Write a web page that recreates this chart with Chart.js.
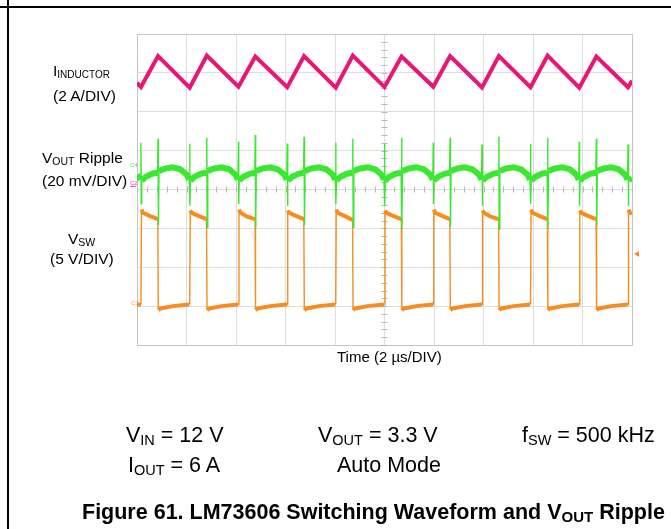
<!DOCTYPE html>
<html>
<head>
<meta charset="utf-8">
<script src="https://cdn.jsdelivr.net/npm/chart.js@4.4.1/dist/chart.umd.min.js"></script>
<style>
  html, body { margin:0; padding:0; background:#fff; }
  body { width:671px; height:529px; position:relative; overflow:hidden; font-family: Arial, "Liberation Sans", sans-serif; color:#000; }
  #c { position:absolute; left:0; top:0; }
  .t { position:absolute; white-space:nowrap; line-height:1; }
  .s { position:relative; }
  .hl { position:absolute; left:0; top:6px; width:671px; height:2px; background:#000; }
  .vl { position:absolute; left:7px; top:0; width:2px; height:529px; background:#000; }
</style>
</head>
<body>
<div class="hl"></div>
<div class="vl"></div>
<canvas id="c" width="671" height="529"></canvas>

<div class="t" style="left:53px;top:62.9px;font-size:15.5px">I<span class="s" style="font-size:10px;top:2px">INDUCTOR</span></div>
<div class="t" style="left:53px;top:87.6px;font-size:15.5px">(2 A/DIV)</div>
<div class="t" style="left:42px;top:150.2px;font-size:15.5px">V<span class="s" style="font-size:10.5px;top:2px">OUT</span> Ripple</div>
<div class="t" style="left:42px;top:172.9px;font-size:15.5px">(20 mV/DIV)</div>
<div class="t" style="left:68px;top:230.9px;font-size:15.5px">V<span class="s" style="font-size:10.5px;top:2px">SW</span></div>
<div class="t" style="left:50px;top:250.9px;font-size:15.5px">(5 V/DIV)</div>
<div class="t" style="left:337px;top:349.3px;font-size:15px">Time (2 µs/DIV)</div>

<div class="t" style="left:126px;top:424.8px;font-size:21.5px">V<span class="s" style="font-size:14.5px;top:3px">IN</span> = 12 V</div>
<div class="t" style="left:128px;top:454.8px;font-size:21.5px">I<span class="s" style="font-size:14.5px;top:3px">OUT</span> = 6 A</div>
<div class="t" style="left:318px;top:424.8px;font-size:21.5px">V<span class="s" style="font-size:14.5px;top:3px">OUT</span> = 3.3 V</div>
<div class="t" style="left:337px;top:454.8px;font-size:21.5px">Auto Mode</div>
<div class="t" style="left:522px;top:424.8px;font-size:21.5px">f<span class="s" style="font-size:14.5px;top:3px">SW</span> = 500 kHz</div>
<div class="t" style="left:82px;top:501.8px;font-size:21.5px;font-weight:bold">Figure 61. LM73606 Switching Waveform and V<span class="s" style="font-size:15px;top:3px">OUT</span> Ripple</div>

<script>
// ---------------- DATA ----------------
// Time axis: 10 divisions of 2 µs
const timeMin = 0, timeMax = 20, timeStep = 2;
const vertDivisions = 8;

// Inductor current (A)
const inductorTime = [0, 0.16, 0.85, 2.13, 2.82, 4.10, 4.78, 6.07, 6.75, 8.03, 8.72,
  10.00, 10.69, 11.97, 12.65, 13.94, 14.62, 15.90, 16.59, 17.87, 18.56, 19.84, 20.0];
const inductorAmps = [5.15, 4.93, 6.53, 4.90, 6.55, 4.95, 6.50, 4.92, 6.52, 4.90, 6.55,
  4.93, 6.50, 4.95, 6.53, 4.91, 6.52, 4.92, 6.55, 4.90, 6.50, 4.92, 5.25];

// Output voltage ripple (mV, AC coupled)
const rippleTime = [0,
  0.14,0.16,0.17,0.19,0.36,0.61,0.83,0.85,0.865,0.89,1.15,1.45,1.75,2.01,
  2.11,2.13,2.14,2.16,2.33,2.58,2.80,2.82,2.835,2.86,3.12,3.42,3.72,3.98,
  4.08,4.10,4.11,4.13,4.30,4.55,4.76,4.78,4.795,4.82,5.08,5.38,5.68,5.95,
  6.05,6.07,6.08,6.10,6.27,6.52,6.73,6.75,6.765,6.79,7.05,7.35,7.65,7.91,
  8.01,8.03,8.04,8.06,8.23,8.48,8.70,8.72,8.735,8.76,9.02,9.32,9.62,9.88,
  9.98,10.00,10.01,10.03,10.20,10.45,10.67,10.69,10.705,10.73,10.99,11.29,11.59,11.85,
  11.95,11.97,11.98,12.00,12.17,12.42,12.63,12.65,12.665,12.69,12.95,13.25,13.55,13.82,
  13.92,13.94,13.95,13.97,14.14,14.39,14.60,14.62,14.635,14.66,14.92,15.22,15.52,15.78,
  15.88,15.90,15.91,15.93,16.10,16.35,16.57,16.59,16.605,16.63,16.89,17.19,17.49,17.75,
  17.85,17.87,17.88,17.90,18.07,18.32,18.54,18.56,18.575,18.60,18.86,19.16,19.46,19.72,
  19.82,19.84,19.85,19.87,20.0];
const rippleMv = [-5.0,
  -7.5,11.5,-20,-8,-6,-4.5,-4,13.5,-31,-3,-1.8,-1.2,-2.2,-5,
  -7.5,11,-21,-8,-6,-4.5,-4,14,-32,-3,-1.8,-1.2,-2.2,-5,
  -7.5,12,-20,-8,-6,-4.5,-4,15.5,-32,-3,-1.8,-1.2,-2.2,-5,
  -7.5,11,-21,-8,-6,-4.5,-4,14.5,-31,-3,-1.8,-1.2,-2.2,-5,
  -7.5,11.5,-20,-8,-6,-4.5,-4,13.5,-32,-3,-1.8,-1.2,-2.2,-5,
  -7.5,11,-21,-8,-6,-4.5,-4,14,-33,-3,-1.8,-1.2,-2.2,-5,
  -7.5,11.5,-20,-8,-6,-4.5,-4,14,-32,-3,-1.8,-1.2,-2.2,-5,
  -7.5,10.5,-21,-8,-6,-4.5,-4,14.5,-33,-3,-1.8,-1.2,-2.2,-5,
  -7.5,11,-20,-8,-6,-4.5,-4,14,-32,-3,-1.8,-1.2,-2.2,-5,
  -7.5,12,-21,-8,-6,-4.5,-4,13.5,-31,-3,-1.8,-1.2,-2.2,-5,
  -7.5,10.5,-21,-8,-6.5];

// Switch node voltage (V)
const swTime = [0,
  0.16,0.18,0.24,0.51,0.84,0.86,0.95,1.45,2.11,
  2.13,2.15,2.21,2.48,2.81,2.83,2.92,3.42,4.08,
  4.10,4.12,4.18,4.45,4.77,4.79,4.88,5.38,6.05,
  6.07,6.09,6.15,6.42,6.74,6.76,6.85,7.35,8.01,
  8.03,8.05,8.11,8.38,8.71,8.73,8.82,9.32,9.98,
  10.00,10.02,10.08,10.35,10.68,10.70,10.79,11.29,11.95,
  11.97,11.99,12.05,12.32,12.64,12.66,12.75,13.25,13.92,
  13.94,13.96,14.02,14.29,14.61,14.63,14.72,15.22,15.88,
  15.90,15.92,15.98,16.25,16.58,16.60,16.69,17.19,17.85,
  17.87,17.89,17.95,18.22,18.55,18.57,18.66,19.16,19.82,
  19.84,19.86,19.92,20.0];
const swVolts = [0.2,
  0.2,12.4,12.0,11.6,11.2,-0.5,-0.3,0.0,0.2,
  0.2,12.3,12.0,11.6,11.2,-0.5,-0.3,0.0,0.2,
  0.2,12.4,12.0,11.5,11.2,-0.5,-0.3,0.0,0.2,
  0.2,12.3,12.0,11.6,11.2,-0.5,-0.3,0.0,0.2,
  0.2,12.4,12.0,11.6,11.1,-0.5,-0.3,0.0,0.2,
  0.2,12.3,12.0,11.6,11.2,-0.5,-0.3,0.0,0.2,
  0.2,12.4,12.0,11.6,11.2,-0.5,-0.3,0.0,0.2,
  0.2,12.3,12.0,11.5,11.2,-0.5,-0.3,0.0,0.2,
  0.2,12.4,12.0,11.6,11.2,-0.5,-0.3,0.0,0.2,
  0.2,12.3,12.0,11.6,11.2,-0.5,-0.3,0.0,0.2,
  0.2,12.4,12.0,11.9];

// Channel scale settings (ground reference in divisions, units per division)
const inductorGroundDiv = 4.17, inductorPerDiv = 2;   // A/DIV
const rippleGroundDiv = 4.63, ripplePerDiv = 20;      // mV/DIV
const swGroundDiv = 1.0, swPerDiv = 5;                // V/DIV
const triggerLevelV = 6.7;

// ---------------- CHART ----------------
const pts = (xs, ys) => xs.map((x, i) => ({x: x, y: ys[i]}));
const PINK = 'rgb(232,22,118)', GREEN = 'rgb(58,232,48)', ORANGE = 'rgb(248,140,32)';

function edgeWidth(thick, thin) {
  return (ctx) => {
    const a = ctx.p0, b = ctx.p1;
    const dx = Math.abs(b.x - a.x), dy = Math.abs(b.y - a.y);
    return (dy > 6 && dy > 3 * dx) ? thin : thick;
  };
}
function channelAxis(groundDiv, perDiv) {
  return { type: 'linear', display: false,
    min: -groundDiv * perDiv, max: (vertDivisions - groundDiv) * perDiv };
}

const scopePlugin = {
  id: 'scope',
  beforeDatasetsDraw(chart) {
    const c = chart.ctx, xs = chart.scales.x, ys = chart.scales.y;
    const cx = xs.getPixelForValue((timeMin + timeMax) / 2);
    const cy = ys.getPixelForValue(vertDivisions / 2);
    c.save();
    c.strokeStyle = '#b8b8b8';
    c.lineWidth = 1;
    c.beginPath();
    for (let t = timeMin; t <= timeMax + 1e-9; t += timeStep / 5) {
      const px = Math.round(xs.getPixelForValue(t)) + 0.5;
      c.moveTo(px, cy - 3); c.lineTo(px, cy + 3);
    }
    for (let d = 0; d <= vertDivisions + 1e-9; d += 0.2) {
      const py = Math.round(ys.getPixelForValue(d)) + 0.5;
      c.moveTo(cx - 3, py); c.lineTo(cx + 3, py);
    }
    c.stroke();
    c.restore();
  },
  afterDatasetsDraw(chart) {
    const c = chart.ctx, a = chart.chartArea;
    c.save();
    c.font = '6px Arial, "Liberation Sans", sans-serif';
    c.textBaseline = 'middle';
    c.textAlign = 'left';
    const yR = chart.scales.yR.getPixelForValue(0);
    const yI = chart.scales.yI.getPixelForValue(0);
    const yS = chart.scales.ySW.getPixelForValue(0);
    c.fillStyle = 'rgba(58,200,48,0.8)'; c.fillText('C4', a.left - 7, yR);
    c.fillStyle = 'rgba(232,22,118,0.8)'; c.fillText('C2', a.left - 7, yI);
    c.fillRect(a.left - 7, yI + 3, 6, 1);
    c.fillStyle = 'rgba(248,140,32,0.8)'; c.fillText('C3', a.left - 6, yS - 3);
    const yT = chart.scales.ySW.getPixelForValue(triggerLevelV);
    c.fillStyle = ORANGE;
    c.beginPath();
    c.moveTo(a.right + 2, yT); c.lineTo(a.right + 7, yT - 3); c.lineTo(a.right + 7, yT + 3);
    c.closePath(); c.fill();
    c.restore();
  }
};

new Chart(document.getElementById('c'), {
  type: 'line',
  data: {
    datasets: [
      { label: 'VOUT Ripple', data: pts(rippleTime, rippleMv), yAxisID: 'yR', order: 0,
        borderColor: GREEN, borderWidth: 6, pointRadius: 0, tension: 0,
        segment: { borderWidth: edgeWidth(6, 1.4) } },
      { label: 'VSW', data: pts(swTime, swVolts), yAxisID: 'ySW', order: 1,
        borderColor: ORANGE, borderWidth: 4, pointRadius: 0, tension: 0,
        segment: { borderWidth: edgeWidth(4, 1.4) } },
      { label: 'IINDUCTOR', data: pts(inductorTime, inductorAmps), yAxisID: 'yI', order: 2,
        borderColor: PINK, borderWidth: 4, pointRadius: 0, tension: 0 }
    ]
  },
  options: {
    responsive: false,
    animation: false,
    devicePixelRatio: 1,
    layout: { padding: { left: 137, top: 34, right: 39, bottom: 184 } },
    plugins: { legend: { display: false }, tooltip: { enabled: false } },
    scales: {
      x: { type: 'linear', min: timeMin, max: timeMax,
        ticks: { display: false, stepSize: timeStep },
        grid: { drawTicks: false, color: (c) => (c.tick.value === timeMin || c.tick.value === timeMax) ? '#c4c4c4' : '#dedede' },
        border: { display: true, color: '#c4c4c4' } },
      y: { type: 'linear', position: 'left', min: 0, max: vertDivisions,
        ticks: { display: false, stepSize: 1 },
        grid: { drawTicks: false, color: (c) => (c.tick.value === 0 || c.tick.value === vertDivisions) ? '#c4c4c4' : '#dedede' },
        border: { display: true, color: '#c4c4c4' } },
      yI: channelAxis(inductorGroundDiv, inductorPerDiv),
      yR: channelAxis(rippleGroundDiv, ripplePerDiv),
      ySW: channelAxis(swGroundDiv, swPerDiv)
    }
  },
  plugins: [scopePlugin]
});
</script>
</body>
</html>
